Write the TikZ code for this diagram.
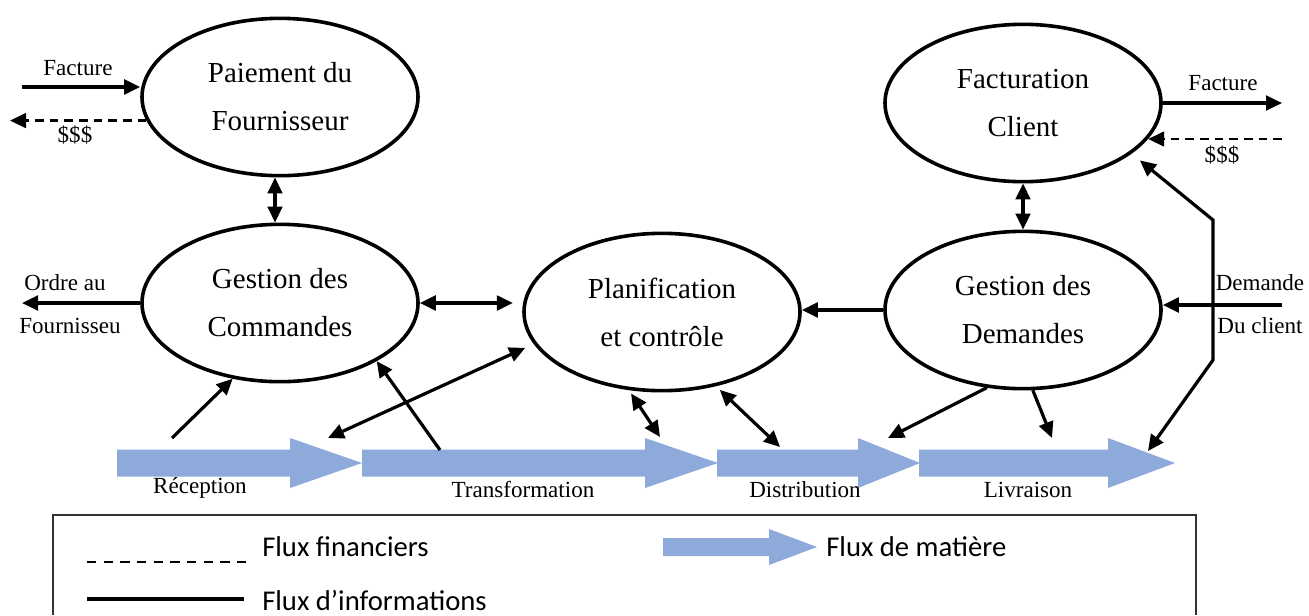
\documentclass[tikz,border=0pt]{standalone}
\usepackage{fontspec}
\setmainfont{Liberation Serif}
\newfontfamily\legendfont{Carlito}
\usetikzlibrary{arrows.meta,shapes.geometric,calc}
\definecolor{flow}{HTML}{8EAADB}

% block arrow of the material flow: name, x start, x head, x tip, y axis
\newcommand\flowarrow[5]{%
  \fill[flow] (#2,#5-13.5) -- (#3,#5-13.5) -- (#3,#5-25) -- (#4,#5)
    -- (#3,#5+25) -- (#3,#5+13.5) -- (#2,#5+13.5) -- cycle;
  \coordinate (#1) at (#2,#5);}

\begin{document}
\begin{tikzpicture}[x=0.75pt,y=-0.75pt,
  proc/.style={ellipse,draw,line width=2.7pt,minimum width=207pt,minimum height=118pt,
    inner sep=0pt,align=center,font=\fontsize{21.75}{36}\selectfont},
  info/.style={line width=2.4pt,-{Triangle[length=12pt,width=11pt]}},
  both/.style={line width=2.4pt,{Triangle[length=12pt,width=11pt]}-{Triangle[length=12pt,width=11pt]}},
  money/.style={line width=1.8pt,dash pattern=on 6.5pt off 4.5pt,-{Triangle[length=12pt,width=11pt]}},
  lbl/.style={font=\fontsize{17.3}{20}\selectfont,inner sep=0pt},
  leg/.style={font=\legendfont\fontsize{21.5}{24}\selectfont,anchor=west,inner sep=0pt},
]
\useasboundingbox (0,0) rectangle (1309,615);

% processes
\node[proc] (pf) at (280,97)  {Paiement du\\Fournisseur};
\node[proc] (gc) at (280,303) {Gestion des\\Commandes};
\node[proc] (pc) at (662,312) {Planification\\et contrôle};
\node[proc] (fc) at (1023,103) {Facturation\\Client};
\node[proc] (gd) at (1023,310) {Gestion des\\Demandes};

% material flow
\flowarrow{rec}{117}{290}{362}{463}
\flowarrow{tra}{362}{645}{718}{463}
\flowarrow{dis}{717}{858}{920}{463}
\flowarrow{liv}{919}{1108}{1175}{463}

\node[lbl] (recL) at (200,488) {Réception};
\node[lbl] (traL) at (523,489) {Transformation};
\node[lbl] (disL) at (805,490) {Distribution};
\node[lbl] (livL) at (1028,490) {Livraison};

% free ends
\coordinate (fIn)  at (22,87);
\coordinate (sOut) at (10,121);
\coordinate (ordEnd) at (22,303);
\coordinate (fOut) at (1282,103);
\coordinate (sIn)  at (1282,139);
\coordinate (dIn)  at (1282,305);
\coordinate (recOut) at (172,438);
\coordinate (traOut) at (440,450);
\coordinate (recIn) at (328,438);
\coordinate (disA) at (660,437);
\coordinate (disB) at (780,447);
\coordinate (disC) at (888,438);
\coordinate (livA) at (1052,438);
\coordinate (livB) at (1148,451);
\coordinate (bendLow)  at (1213,360);
\coordinate (bendHigh) at (1213,220);

% supplier side
\draw[info] (fIn) -- (fIn -| pf.west);
\draw[money] (pf.-170) -- (pf.-170 -| sOut);
\draw[info] (gc.west) -- (ordEnd);
\draw[both] ($(pf.south)+(-5,0)$) -- ($(gc.north)+(-5,0)$);
\draw[both, shorten >=7pt] (gc.east) -- (gc.east -| pc.west);
\draw[info] (recOut) -- (gc.-122);
\draw[info] (traOut) -- (gc.-31);

% planning links
\draw[both, shorten >=7pt] (recIn) -- (pc.-166);
\draw[both, shorten <=3pt] (pc.-113) -- (disA);
\draw[both, shorten <=4pt] (pc.-54) -- (disB);

% customer side
\draw[info] (gd.west) -- (gd.west -| pc.east);
\draw[both] (fc.south) -- (gd.north);
\draw[info] (fc.east) -- (fc.east -| fOut);
\draw[money] (sIn) -- (sIn -| fc.-16);
\draw[info] (dIn) -- (dIn -| gd.east);
\draw[info] (gd.-115) -- (disC);
\draw[info] (gd.-83) -- (livA);
\draw[both, shorten >=8pt] (livB) -- (bendLow) -- (bendHigh) -- (fc.-25);

% flow labels
\node[lbl] (facL) at (78,68) {Facture};
\node[lbl] (dolL) at (75,135) {\$\$\$};
\node[lbl] (ordA) at (65,283) {Ordre au};
\node[lbl] (ordB) at (70,326) {Fournisseu};
\node[lbl] (facR) at (1223,83) {Facture};
\node[lbl] (dolR) at (1222,155) {\$\$\$};
\node[lbl] (demA) at (1260,283) {Demande};
\node[lbl] (demB) at (1260,326) {Du client};

% legend
\draw[line width=1.1pt, black!80] (53,615) -- (53,515) -- (1196,515) -- (1196,615);
\coordinate (lgA) at (87,562);
\coordinate (lgB) at (246,562);
\coordinate (lgC) at (87,599);
\coordinate (lgD) at (244,599);
\draw[line width=2pt, dash pattern=on 7pt off 5.5pt] (lgA) -- (lgB);
\draw[line width=3pt] (lgC) -- (lgD);
\fill[flow] (663,538) -- (769,538) -- (769,529) -- (817,547) -- (769,565) -- (769,556) -- (663,556) -- cycle;
\node[leg] (lf1) at (262,547) {Flux financiers};
\node[leg] (lf2) at (262,600) {Flux d’informations};
\node[leg] (lf3) at (826,547) {Flux de matière};
\end{tikzpicture}
\end{document}
